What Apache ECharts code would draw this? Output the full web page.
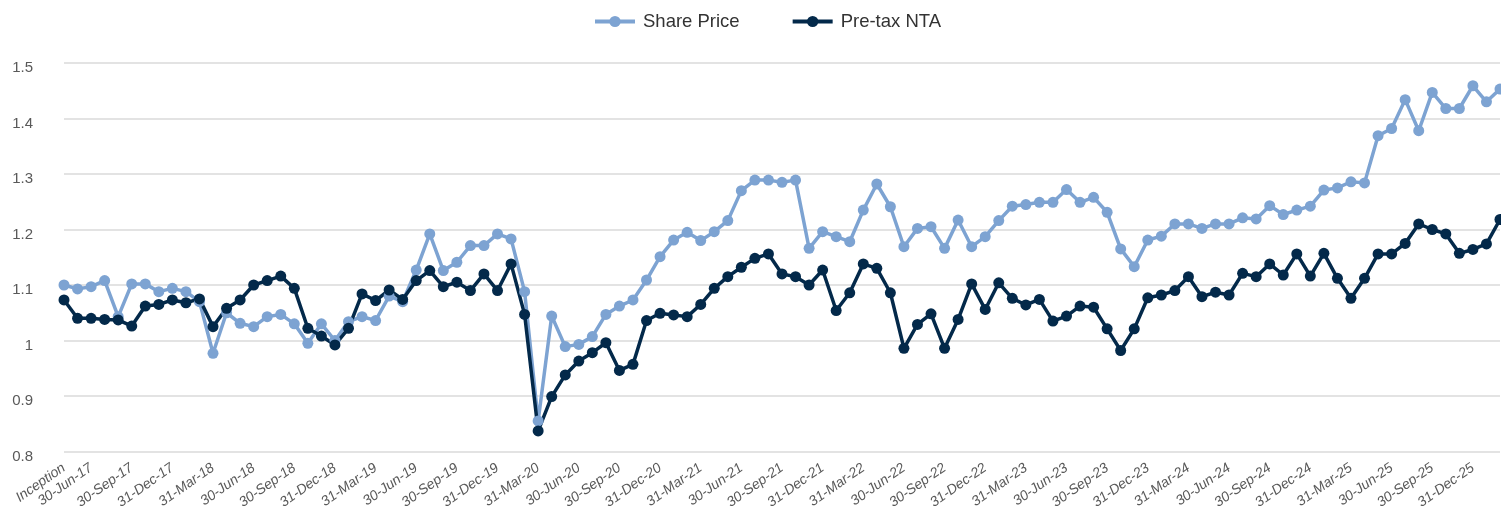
<!DOCTYPE html>
<html>
<head>
<meta charset="utf-8">
<script src="https://cdn.jsdelivr.net/npm/echarts@6/dist/echarts.min.js"></script>
<style>
html,body{margin:0;padding:0;background:#fff;}
#chart{width:1501px;height:528px;}
</style>
</head>
<body>
<div id="chart"></div>
<script>
const categories = [
  'Inception','31-May-17','30-Jun-17','31-Jul-17','31-Aug-17','30-Sep-17','31-Oct-17','30-Nov-17','31-Dec-17',
  '31-Jan-18','28-Feb-18','31-Mar-18','30-Apr-18','31-May-18','30-Jun-18','31-Jul-18','31-Aug-18','30-Sep-18','31-Oct-18','30-Nov-18','31-Dec-18',
  '31-Jan-19','28-Feb-19','31-Mar-19','30-Apr-19','31-May-19','30-Jun-19','31-Jul-19','31-Aug-19','30-Sep-19','31-Oct-19','30-Nov-19','31-Dec-19',
  '31-Jan-20','29-Feb-20','31-Mar-20','30-Apr-20','31-May-20','30-Jun-20','31-Jul-20','31-Aug-20','30-Sep-20','31-Oct-20','30-Nov-20','31-Dec-20',
  '31-Jan-21','28-Feb-21','31-Mar-21','30-Apr-21','31-May-21','30-Jun-21','31-Jul-21','31-Aug-21','30-Sep-21','31-Oct-21','30-Nov-21','31-Dec-21',
  '31-Jan-22','28-Feb-22','31-Mar-22','30-Apr-22','31-May-22','30-Jun-22','31-Jul-22','31-Aug-22','30-Sep-22','31-Oct-22','30-Nov-22','31-Dec-22',
  '31-Jan-23','28-Feb-23','31-Mar-23','30-Apr-23','31-May-23','30-Jun-23','31-Jul-23','31-Aug-23','30-Sep-23','31-Oct-23','30-Nov-23','31-Dec-23',
  '31-Jan-24','29-Feb-24','31-Mar-24','30-Apr-24','31-May-24','30-Jun-24','31-Jul-24','31-Aug-24','30-Sep-24','31-Oct-24','30-Nov-24','31-Dec-24',
  '31-Jan-25','28-Feb-25','31-Mar-25','30-Apr-25','31-May-25','30-Jun-25','31-Jul-25','31-Aug-25','30-Sep-25','31-Oct-25','30-Nov-25','31-Dec-25',
  '31-Jan-26','28-Feb-26'
];

const sharePrice = [
  1.100,1.093,1.097,1.108,1.043,1.102,1.102,1.088,1.094,
  1.088,1.070,0.977,1.050,1.031,1.025,1.043,1.047,1.030,0.995,1.030,1.000,
  1.034,1.043,1.036,1.080,1.070,1.127,1.192,1.126,1.141,1.171,1.171,1.192,
  1.183,1.088,0.855,1.044,0.989,0.993,1.007,1.047,1.062,1.073,1.109,1.151,
  1.181,1.195,1.180,1.196,1.216,1.270,1.289,1.289,1.285,1.289,1.166,1.196,
  1.187,1.178,1.235,1.282,1.241,1.169,1.202,1.205,1.166,1.217,1.169,1.187,
  1.216,1.242,1.245,1.249,1.249,1.272,1.249,1.258,1.231,1.165,1.133,1.181,
  1.188,1.210,1.210,1.202,1.210,1.210,1.221,1.219,1.243,1.227,1.235,1.242,
  1.271,1.275,1.286,1.284,1.369,1.382,1.434,1.378,1.447,1.418,1.418,1.459,
  1.430,1.453
];

const preTaxNTA = [
  1.073,1.040,1.040,1.038,1.037,1.026,1.062,1.065,1.073,
  1.068,1.075,1.025,1.058,1.073,1.100,1.108,1.116,1.094,1.022,1.008,0.992,
  1.022,1.084,1.072,1.091,1.074,1.108,1.126,1.097,1.105,1.090,1.120,1.090,
  1.138,1.047,0.837,0.899,0.938,0.963,0.978,0.996,0.946,0.957,1.036,1.049,
  1.046,1.043,1.065,1.094,1.115,1.132,1.148,1.156,1.120,1.115,1.100,1.127,
  1.054,1.086,1.138,1.130,1.086,0.986,1.029,1.048,0.986,1.038,1.102,1.056,
  1.104,1.076,1.064,1.074,1.035,1.044,1.062,1.060,1.021,0.982,1.021,1.077,
  1.082,1.090,1.115,1.079,1.087,1.082,1.121,1.115,1.138,1.118,1.156,1.116,
  1.157,1.112,1.076,1.112,1.156,1.156,1.175,1.210,1.200,1.192,1.157,1.164,
  1.174,1.218
];

const seriesNames = ['Share Price', 'Pre-tax NTA'];
const colors = ['#7da3d2', '#03294a'];

const chart = echarts.init(document.getElementById('chart'), null, {renderer: 'canvas'});
chart.setOption({
  animation: false,
  color: colors,
  legend: {
    top: 7,
    left: 588,
    itemWidth: 40,
    itemHeight: 14,
    itemGap: 51,
    lineStyle: {width: 4},
    textStyle: {fontSize: 18.5, color: '#333', padding: [0, 0, 0, 3], fontFamily: 'Liberation Sans, Arial, sans-serif'},
    data: seriesNames
  },
  grid: {left: 64, right: 1, top: 63, bottom: 76.5, containLabel: false},
  xAxis: {
    type: 'category',
    boundaryGap: false,
    data: categories,
    axisLine: {show: false},
    axisTick: {show: false},
    splitLine: {show: false},
    axisLabel: {
      interval: function (i) { return i === 0 || (i - 2) % 3 === 0; },
      rotate: 35,
      margin: 15,
      fontSize: 14,
      fontStyle: 'italic',
      color: '#595959',
      fontFamily: 'Liberation Sans, Arial, sans-serif'
    }
  },
  yAxis: {
    type: 'value',
    min: 0.8,
    max: 1.5,
    interval: 0.1,
    axisLine: {show: false},
    axisTick: {show: false},
    splitLine: {lineStyle: {color: '#e3e3e3', width: 2}},
    axisLabel: {
      margin: 31,
      fontSize: 15,
      color: '#595959',
      verticalAlign: 'top',
      lineHeight: 10,
      fontFamily: 'Liberation Sans, Arial, sans-serif',
      formatter: function (v) { return String(Math.round(v * 10) / 10); }
    }
  },
  series: [
    {
      name: seriesNames[0],
      type: 'line',
      data: sharePrice,
      symbol: 'circle',
      symbolSize: 11,
      showAllSymbol: true,
      lineStyle: {width: 3.5, color: colors[0]},
      itemStyle: {color: colors[0]}
    },
    {
      name: seriesNames[1],
      type: 'line',
      data: preTaxNTA,
      symbol: 'circle',
      symbolSize: 11,
      showAllSymbol: true,
      lineStyle: {width: 3.5, color: colors[1]},
      itemStyle: {color: colors[1]}
    }
  ]
});
</script>
</body>
</html>
